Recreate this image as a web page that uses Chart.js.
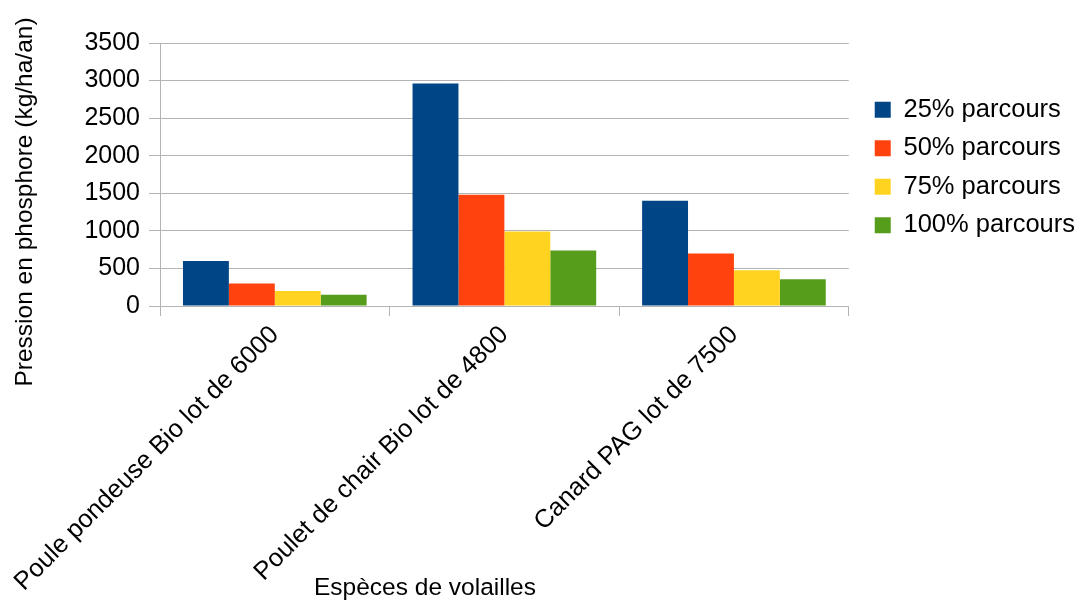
<!DOCTYPE html>
<html>
<head>
<meta charset="utf-8">
<script src="https://cdn.jsdelivr.net/npm/chart.js@4/dist/chart.umd.min.js"></script>
<style>
    html, body { margin: 0; padding: 0; background: #ffffff; }
    #wrap { width: 1080px; height: 601px; position: relative; }
</style>
</head>
<body>
<div id="wrap"><canvas id="chart"></canvas></div>
<script>
// Données
const categories = ['Poule pondeuse Bio lot de 6000', 'Poulet de chair Bio lot de 4800', 'Canard PAG lot de 7500'];
const seriesNames = ['25% parcours', '50% parcours', '75% parcours', '100% parcours'];
const parcours25 = [600, 2960, 1400];
const parcours50 = [300, 1480, 700];
const parcours75 = [200, 990, 475];
const parcours100 = [150, 740, 355];
const yTicks = [0, 500, 1000, 1500, 2000, 2500, 3000, 3500];

const COLORS = ['#004586', '#ff420e', '#ffd320', '#579d1c'];
const FONT = "'Liberation Sans', Arial, sans-serif";
const GRID = '#b3b3b3';

const yTitle = 'Pression en phosphore (kg/ha/an)';
const xTitle = 'Espèces de volailles';

// titres d'axes placés comme dans l'original
const axisTitles = {
    id: 'axisTitles',
    afterDraw(chart) {
        const ctx = chart.ctx;
        ctx.save();
        ctx.fillStyle = '#000000';
        ctx.font = '24.5px ' + FONT;
        ctx.textAlign = 'center';
        ctx.textBaseline = 'middle';
        ctx.fillText(xTitle, 425, 588);
        ctx.translate(25, 202);
        ctx.rotate(-Math.PI / 2);
        ctx.fillText(yTitle, 0, 0);
        ctx.restore();
    }
};

// décale un peu la légende (écart au graphique, comme LibreOffice)
const legendNudge = {
    id: 'legendNudge',
    afterLayout(chart) {
        const lg = chart.legend;
        lg.left += 13; lg.right += 13;
        lg.top -= 7; lg.bottom -= 7;
    }
};

const seriesData = [parcours25, parcours50, parcours75, parcours100];

new Chart(document.getElementById('chart'), {
    type: 'bar',
    data: {
        labels: categories,
        datasets: seriesData.map((d, i) => ({
            label: seriesNames[i],
            data: d,
            backgroundColor: COLORS[i],
            borderWidth: 0,
            categoryPercentage: 0.8,
            barPercentage: 1.0
        }))
    },
    options: {
        responsive: true,
        maintainAspectRatio: false,
        animation: false,
        layout: { padding: { top: 43, right: 8, left: 0, bottom: 0 } },
        plugins: {
            legend: {
                position: 'right',
                fullSize: false,
                labels: {
                    color: '#000000',
                    font: { family: FONT, size: 25.5 },
                    boxWidth: 16,
                    boxHeight: 16,
                    padding: 13
                }
            },
            tooltip: { enabled: false }
        },
        scales: {
            x: {
                afterFit: (scale) => {
                    scale.height = 295;
                    scale.paddingLeft = 0;
                    scale.paddingRight = 0;
                },
                grid: {
                    offset: true,
                    drawOnChartArea: true,
                    color: (c) => c.index === categories.length ? GRID : 'rgba(0,0,0,0)',
                    tickColor: GRID,
                    tickLength: 10
                },
                border: { color: GRID },
                ticks: {
                    color: '#000000',
                    font: { family: FONT, size: 25.5 },
                    maxRotation: 45,
                    minRotation: 45,
                    padding: 4,
                    autoSkip: false
                }
            },
            y: {
                min: 0,
                max: 3500,
                afterFit: (scale) => { scale.width = 160; },
                afterBuildTicks: (scale) => { scale.ticks = yTicks.map(v => ({ value: v })); },
                grid: { color: GRID, tickColor: GRID, tickLength: 11 },
                border: { color: GRID },
                ticks: {
                    color: '#000000',
                    font: { family: FONT, size: 25 },
                    padding: 9,
                    callback: (v) => String(v)
                }
            }
        }
    },
    plugins: [axisTitles, legendNudge]
});
</script>
</body>
</html>
